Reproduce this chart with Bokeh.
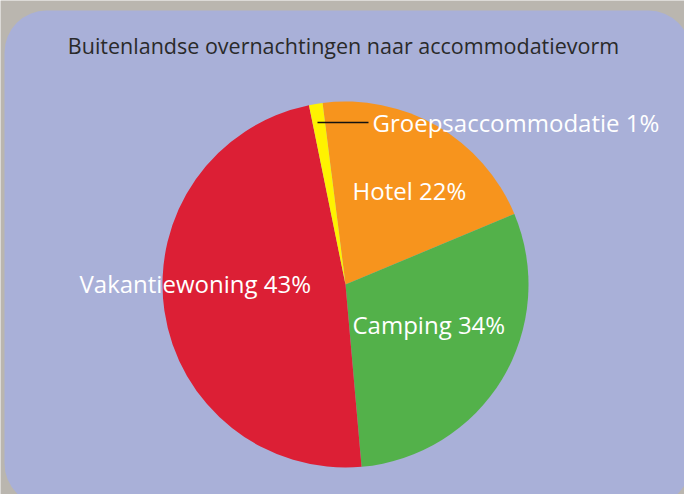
import math
from bokeh.plotting import figure
from bokeh.models import Range1d, BoxAnnotation, ColumnDataSource
from bokeh.core.properties import value
from bokeh.embed import file_html
from bokeh.resources import INLINE

# ---- data (slice shares as drawn, and the printed labels) ----
categories = ["Hotel", "Camping", "Vakantiewoning", "Groepsaccommodatie"]
shares = [20.7, 29.9, 48.2, 1.2]
pct_labels = ["22%", "34%", "43%", "1%"]
title_text = "Buitenlandse overnachtingen naar accommodatievorm"

# ---- styles / layout ----
colors = ["#f7941d", "#53b14a", "#dc1f35", "#fff200"]
FW, FH = 684, 494
def sy(y):
    return FH - y

cx, cy, r = 345, 284, 183
start_cw = -7.2  # degrees clockwise from 12 o'clock where first slice starts
label_pos = [(352, 190), (352, 324), (79, 283), (372, 122)]

p = figure(width=FW, height=FH, output_backend="svg", toolbar_location=None,
           x_range=Range1d(0, FW), y_range=Range1d(0, FH),
           min_border=0, background_fill_color="#bab6af", border_fill_color="#bab6af")
p.axis.visible = False
p.grid.visible = False
p.outline_line_color = None

p.add_layout(BoxAnnotation(left=4, right=690, top=sy(10), bottom=sy(505),
                           border_radius=42, fill_color="#a9b0d8", fill_alpha=1,
                           line_color=None, level="underlay"))

starts, ends = [], []
th = start_cw
for s in shares:
    th_end = th + s / 100 * 360
    starts.append(math.radians(90 - th_end))
    ends.append(math.radians(90 - th))
    th = th_end

src = ColumnDataSource(dict(cat=categories, start=starts, end=ends, color=colors))
p.wedge(x=cx, y=sy(cy), radius=r, start_angle="start", end_angle="end",
        fill_color="color", line_color=None, source=src)

# leader line for small slice
p.line(x=[317, 368], y=[sy(122), sy(122)], line_color="#111111", line_width=1.5)

texts = [f"{c} {l}" for c, l in zip(categories, pct_labels)]
p.text(x=[lp[0] for lp in label_pos], y=[sy(lp[1]) for lp in label_pos], text=texts,
       text_font=value("Open Sans"), text_font_size="24px", text_color="white",
       text_align="left", text_baseline="middle")

p.text(x=[343], y=[sy(45)], text=[title_text], text_font=value("Open Sans"),
       text_font_size="21.5px", text_color="#2a2a2a", text_align="center",
       text_baseline="middle")

open("out.html", "w").write(file_html(p, INLINE))
